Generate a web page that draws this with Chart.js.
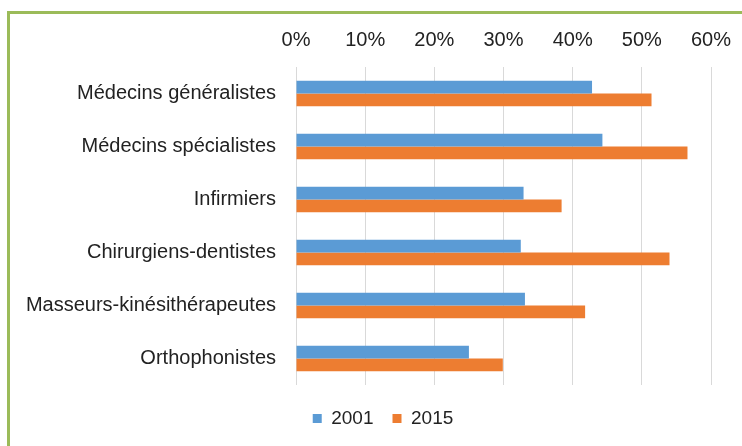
<!DOCTYPE html>
<html>
<head>
<meta charset="utf-8">
<script src="https://cdn.jsdelivr.net/npm/chart.js@4/dist/chart.umd.min.js"></script>
<style>
    body { margin: 0; background: #fff; overflow: hidden; }
    #cadre {
        position: absolute; left: 7px; top: 11px;
        width: 780px; height: 480px;
        border: 3px solid #9bbb59;
    }
    #zone { position: absolute; left: 0; top: 0; width: 742px; height: 446px; }
</style>
</head>
<body>
<div id="cadre"></div>
<div id="zone"><canvas id="graficoProfessions" width="742" height="446"></canvas></div>
<script>
const categories = [
    "Médecins généralistes",
    "Médecins spécialistes",
    "Infirmiers",
    "Chirurgiens-dentistes",
    "Masseurs-kinésithérapeutes",
    "Orthophonistes"
];
const valeurs2001 = [42.8, 44.3, 32.9, 32.5, 33.1, 25.0];
const valeurs2015 = [51.4, 56.6, 38.4, 54.0, 41.8, 29.9];
const ticksX = [0, 10, 20, 30, 40, 50, 60];

const couleurTexte = "#222222";

// descendre un peu la légende comme dans l'original
const decalageLegende = {
    id: "decalageLegende",
    afterLayout(chart) {
        chart.legend.top += 5;
        chart.legend.bottom += 5;
    }
};

new Chart(document.getElementById("graficoProfessions"), {
    type: "bar",
    data: {
        labels: categories,
        datasets: [{
            label: "2001",
            data: valeurs2001,
            backgroundColor: "#5b9bd5"
        }, {
            label: "2015",
            data: valeurs2015,
            backgroundColor: "#ed7d31"
        }]
    },
    options: {
        indexAxis: "y",
        responsive: false,
        animation: false,
        datasets: {
            bar: { categoryPercentage: 0.48, barPercentage: 1 }
        },
        layout: {
            padding: { left: 24, right: 0, top: 0, bottom: 13 }
        },
        plugins: {
            tooltip: { enabled: false },
            legend: {
                position: "bottom",
                labels: {
                    boxWidth: 9,
                    boxHeight: 9,
                    padding: 19,
                    color: couleurTexte,
                    font: { family: "'Liberation Sans', Arial", size: 19 }
                }
            }
        },
        scales: {
            x: {
                position: "top",
                min: ticksX[0],
                max: ticksX[ticksX.length - 1],
                afterBuildTicks: (scale) => {
                    scale.ticks = ticksX.map(v => ({ value: v }));
                },
                afterFit: (scale) => {
                    scale.height = 67;
                    scale.paddingRight = 31;
                },
                ticks: {
                    callback: (v) => v + "%",
                    padding: 15,
                    color: couleurTexte,
                    font: { family: "'Liberation Sans', Arial", size: 20 }
                },
                grid: { color: "#d9d9d9", drawTicks: false },
                border: { display: false }
            },
            y: {
                afterFit: (scale) => {
                    scale.width = 272;
                },
                ticks: {
                    padding: 20,
                    color: couleurTexte,
                    font: { family: "'Liberation Sans', Arial", size: 20 }
                },
                grid: { display: false, drawTicks: false },
                border: { display: false }
            }
        }
    },
    plugins: [decalageLegende]
});
</script>
</body>
</html>
